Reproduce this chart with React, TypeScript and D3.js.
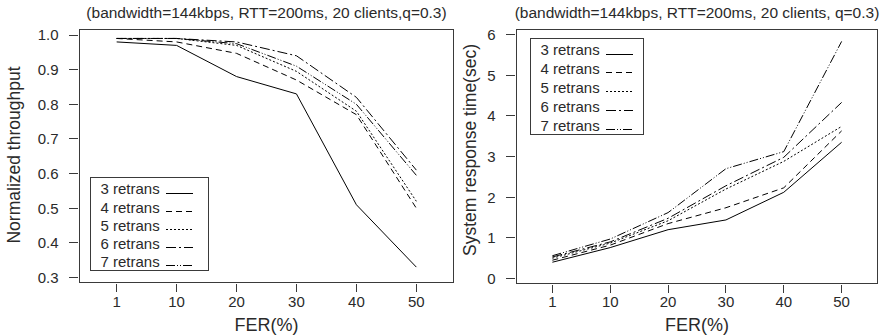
import React from "react";
import * as d3 from "d3";

const FER_LABELS = ["1", "10", "20", "30", "40", "50"];
const SERIES_NAMES = ["3 retrans", "4 retrans", "5 retrans", "6 retrans", "7 retrans"];

const throughput3 = [0.98, 0.97, 0.88, 0.83, 0.51, 0.33];
const throughput4 = [0.99, 0.98, 0.947, 0.87, 0.77, 0.5];
const throughput5 = [0.99, 0.99, 0.97, 0.895, 0.78, 0.52];
const throughput6 = [0.99, 0.99, 0.98, 0.94, 0.82, 0.61];
const throughput7 = [0.99, 0.99, 0.975, 0.91, 0.8, 0.595];

const response3 = [0.4, 0.76, 1.2, 1.44, 2.12, 3.35];
const response4 = [0.45, 0.82, 1.35, 1.74, 2.23, 3.63];
const response5 = [0.5, 0.87, 1.42, 2.2, 2.88, 3.74];
const response6 = [0.53, 0.9, 1.48, 2.28, 2.98, 4.33];
const response7 = [0.56, 0.97, 1.62, 2.7, 3.12, 5.83];

const yTicksLeft = [0.3, 0.4, 0.5, 0.6, 0.7, 0.8, 0.9, 1.0];
const yTicksRight = [0, 1, 2, 3, 4, 5, 6];

const TITLE_LEFT = "(bandwidth=144kbps, RTT=200ms, 20 clients,q=0.3)";
const TITLE_RIGHT = "(bandwidth=144kbps, RTT=200ms, 20 clients, q=0.3)";

const DASHES = ["", "6,4", "2,2", "10,3,2,3", "9,2,1,2,1,2"];
const FONT = "'Liberation Sans', Arial, Helvetica, sans-serif";
const INK = "#2a2a2a";
const FRAME = "#3a3a3a";

type PanelProps = {
  left: number;
  right: number;
  top: number;
  bottom: number;
  yDomain: [number, number];
  yRange: [number, number];
  yTicks: number[];
  yFmt: (v: number) => string;
  series: number[][];
  title: string;
  ylab: string;
  ylabX: number;
  ylabY: number;
  legend: { x: number; y: number; w: number; row: number };
};

function Panel(p: PanelProps) {
  const x = d3
    .scaleLinear()
    .domain([0.38, 6.62])
    .range([p.left, p.right]);
  const y = d3.scaleLinear().domain(p.yDomain).range(p.yRange);
  const line = d3
    .line<number>()
    .x((_, i) => x(i + 1))
    .y((v) => y(v));
  const cx = (p.left + p.right) / 2;
  const lg = p.legend;
  const rowH = lg.row;
  const lgH = rowH * 4 + 21;
  return (
    <g fontFamily={FONT} fill={INK}>
      <text x={cx} y={18} textAnchor="middle" fontSize={15.5}>
        {p.title}
      </text>
      <rect
        x={p.left}
        y={p.top}
        width={p.right - p.left}
        height={p.bottom - p.top}
        fill="none"
        stroke={FRAME}
        strokeWidth={1}
        shapeRendering="crispEdges"
      />
      {p.yTicks.map((t) => (
        <g key={"y" + t}>
          <line
            x1={p.left - 11}
            x2={p.left - 2}
            y1={y(t)}
            y2={y(t)}
            stroke={FRAME}
            shapeRendering="crispEdges"
          />
          <text
            x={p.left - 21}
            y={y(t)}
            dy="0.36em"
            textAnchor="end"
            fontSize={15}
          >
            {p.yFmt(t)}
          </text>
        </g>
      ))}
      {FER_LABELS.map((lab, i) => (
        <g key={"x" + lab}>
          <line
            x1={x(i + 1)}
            x2={x(i + 1)}
            y1={p.bottom + 1}
            y2={p.bottom + 9}
            stroke={FRAME}
            shapeRendering="crispEdges"
          />
          <text x={x(i + 1)} y={307} textAnchor="middle" fontSize={15}>
            {lab}
          </text>
        </g>
      ))}
      <text x={cx} y={331} textAnchor="middle" fontSize={18}>
        FER(%)
      </text>
      <text
        transform={`translate(${p.ylabX},${p.ylabY}) rotate(-90)`}
        textAnchor="middle"
        dy="0.35em"
        fontSize={17.5}
      >
        {p.ylab}
      </text>
      {p.series.map((s, k) => (
        <path
          key={"s" + k}
          d={line(s) || ""}
          fill="none"
          stroke="#000"
          strokeWidth={1}
          strokeDasharray={DASHES[k] || undefined}
        />
      ))}
      <rect
        x={lg.x}
        y={lg.y}
        width={lg.w}
        height={lgH}
        fill="#fff"
        stroke={FRAME}
        shapeRendering="crispEdges"
      />
      {SERIES_NAMES.map((name, k) => {
        const ry = lg.y + 11.5 + k * rowH;
        return (
          <g key={"l" + k}>
            <text x={lg.x + 10} y={ry} dy="0.36em" fontSize={15}>
              {name}
            </text>
            <line
              x1={lg.x + 75}
              x2={lg.x + 102}
              y1={ry + 4}
              y2={ry + 4}
              stroke="#000"
              strokeDasharray={DASHES[k] || undefined}
              shapeRendering="crispEdges"
            />
          </g>
        );
      })}
    </g>
  );
}

export default function App() {
  return (
    <div style={{ position: "fixed", left: 0, top: 0 }}>
      <svg width={881} height={336} style={{ display: "block", background: "#fff" }}>
        <rect x={0} y={0} width={881} height={336} fill="#fff" />
        <Panel
          left={79.5}
          right={453.5}
          top={29.5}
          bottom={282.5}
          yDomain={[0.3, 1.0]}
          yRange={[277.5, 35]}
          yTicks={yTicksLeft}
          yFmt={(v) => v.toFixed(1)}
          series={[throughput3, throughput4, throughput5, throughput6, throughput7]}
          title={TITLE_LEFT}
          ylab="Normalized throughput"
          ylabX={14}
          ylabY={155}
          legend={{ x: 90.5, y: 177.5, w: 118, row: 18.1 }}
        />
        <Panel
          left={516.5}
          right={877.5}
          top={29.5}
          bottom={283.5}
          yDomain={[0, 6]}
          yRange={[278.5, 34.5]}
          yTicks={yTicksRight}
          yFmt={(v) => String(v)}
          series={[response3, response4, response5, response6, response7]}
          title={TITLE_RIGHT}
          ylab="System response time(sec)"
          ylabX={470}
          ylabY={150}
          legend={{ x: 530.5, y: 38.5, w: 113, row: 18.8 }}
        />
      </svg>
    </div>
  );
}
